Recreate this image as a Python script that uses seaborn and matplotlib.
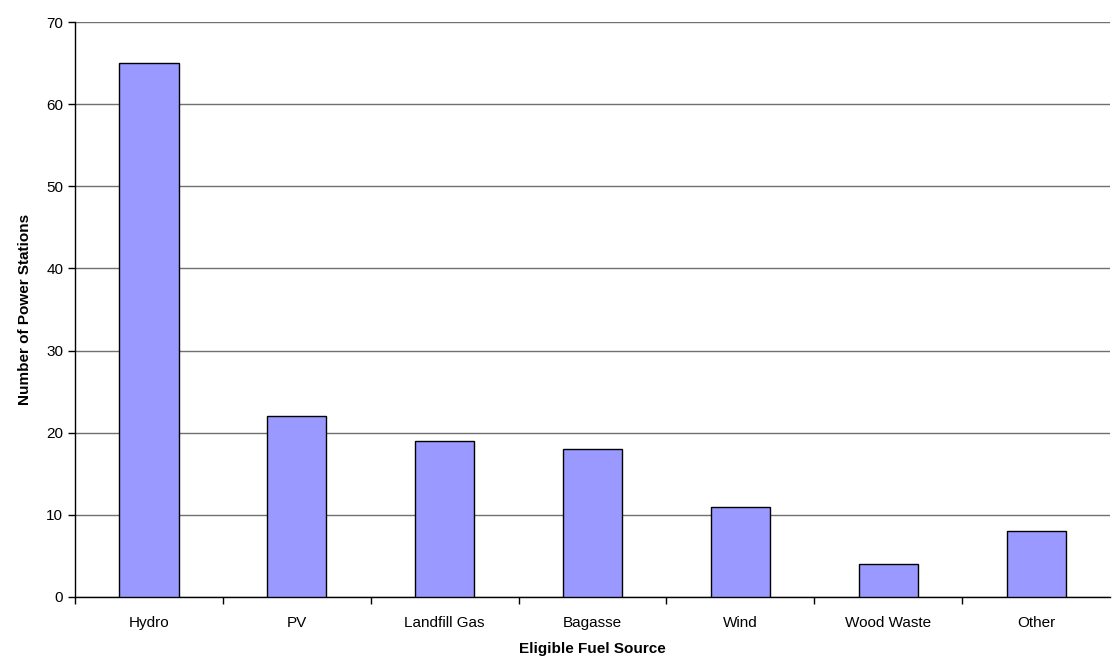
import matplotlib
matplotlib.use("Agg")
import matplotlib.pyplot as plt
import numpy as np
import pandas as pd
import seaborn as sns

# data
fuel_sources = ["Hydro", "PV", "Landfill Gas", "Bagasse", "Wind", "Wood Waste", "Other"]
station_counts = [65, 22, 19, 18, 11, 4, 8]

df = pd.DataFrame({"source": fuel_sources, "count": station_counts})

sns.set_style("white")
plt.rcParams["font.family"] = ["Liberation Sans", "DejaVu Sans"]
plt.rcParams["text.color"] = "black"
plt.rcParams["axes.labelcolor"] = "black"
plt.rcParams["xtick.color"] = "black"
plt.rcParams["ytick.color"] = "black"

fig = plt.figure(figsize=(11.12, 6.68), dpi=100)
ax = fig.add_axes([75 / 1112, 71 / 668, 1035 / 1112, 575 / 668])

sns.barplot(data=df, x="source", y="count", color="#9999FF", width=0.4,
            edgecolor="black", linewidth=1.0, saturation=1, ax=ax, zorder=3)

ax.set_ylim(0, 70)
ax.set_yticks(np.arange(0, 71, 10))
ax.set_xlim(-0.5, len(fuel_sources) - 0.5)
ax.yaxis.grid(True, color="#707070", linewidth=1.0, zorder=0)
ax.set_axisbelow(True)

for side in ["top", "right"]:
    ax.spines[side].set_visible(False)
for side in ["left", "bottom"]:
    ax.spines[side].set_color("black")
    ax.spines[side].set_linewidth(1.0)

# tick marks between categories like the original, labels centred on bars
ax.set_xticks(np.arange(-0.5, len(fuel_sources) - 1, 1.0))
ax.set_xticklabels([])
ax.set_xticks(np.arange(len(fuel_sources)), minor=True)
ax.set_xticklabels(fuel_sources, minor=True, fontsize=11)
ax.tick_params(axis="x", which="major", bottom=True, length=5, width=1,
               color="black", direction="out")
ax.tick_params(axis="x", which="minor", bottom=True, length=0, pad=14, labelcolor="black")
ax.tick_params(axis="y", left=True, length=5, width=1, color="black",
               direction="out", labelsize=11, labelcolor="black")

ax.set_xlabel("Eligible Fuel Source", fontsize=11, fontweight="bold", labelpad=8, color="black")
ax.set_ylabel("Number of Power Stations", fontsize=11, fontweight="bold", labelpad=10, color="black")

fig.savefig("out.png", dpi=100)
